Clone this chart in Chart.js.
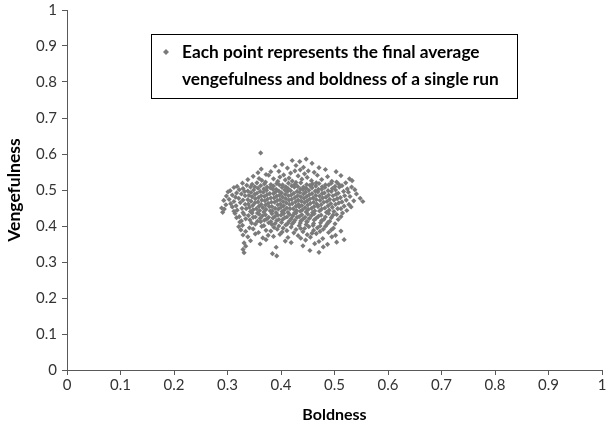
<!DOCTYPE html>
<html>
<head>
<meta charset="utf-8">
<script src="https://cdn.jsdelivr.net/npm/chart.js@4.4.1/dist/chart.umd.min.js"></script>
<style>
    html, body { margin: 0; padding: 0; background: #fff; }
    #wrap { position: relative; width: 606px; height: 429px; }
</style>
</head>
<body>
<div id="wrap"><canvas id="scatter"></canvas></div>
<script>
// final (boldness, vengefulness) of each run
const runs = [
    [0.362,0.603],
    [0.421,0.582],[0.447,0.586],[0.435,0.579],
    [0.402,0.571],[0.428,0.568],[0.458,0.574],[0.389,0.566],[0.442,0.563],
    [0.363,0.558],[0.412,0.561],[0.436,0.556],[0.471,0.562],[0.483,0.557],[0.451,0.553],[0.396,0.552],
    [0.357,0.548],[0.381,0.551],[0.418,0.547],[0.426,0.553],[0.462,0.549],[0.503,0.551],[0.444,0.545],[0.372,0.543],[0.405,0.542],
    [0.348,0.538],[0.377,0.541],[0.398,0.536],[0.432,0.539],[0.449,0.535],[0.468,0.541],[0.487,0.537],[0.512,0.540],[0.415,0.533],[0.359,0.532],[0.528,0.531],
    [0.338,0.529],[0.364,0.527],[0.386,0.531],[0.394,0.524],[0.408,0.528],[0.421,0.525],[0.439,0.530],[0.457,0.526],[0.476,0.529],[0.495,0.524],[0.533,0.526],[0.371,0.522],[0.428,0.521],[0.466,0.520],[0.504,0.522],
    [0.328,0.519],[0.346,0.516],[0.355,0.520],[0.369,0.517],[0.381,0.515],[0.392,0.518],[0.403,0.514],[0.414,0.519],[0.426,0.516],[0.437,0.520],[0.448,0.515],[0.459,0.517],[0.471,0.518],[0.483,0.514],[0.494,0.519],[0.508,0.516],[0.521,0.520],
    [0.318,0.510],[0.336,0.513],[0.351,0.509],[0.362,0.512],[0.374,0.508],[0.386,0.511],[0.397,0.514],[0.409,0.509],[0.420,0.512],[0.431,0.510],[0.442,0.508],[0.454,0.513],[0.465,0.511],[0.477,0.509],[0.489,0.514],[0.501,0.510],[0.514,0.512],[0.532,0.508],
    [0.312,0.507],[0.329,0.504],[0.343,0.508],[0.357,0.505],[0.368,0.503],[0.380,0.506],[0.391,0.502],[0.402,0.507],[0.413,0.504],[0.425,0.508],[0.436,0.503],[0.447,0.505],[0.458,0.506],[0.470,0.502],[0.482,0.507],[0.496,0.504],[0.509,0.508],[0.524,0.503],
    [0.305,0.498],[0.322,0.501],[0.338,0.497],[0.349,0.500],[0.361,0.496],[0.373,0.499],[0.385,0.502],[0.396,0.497],[0.407,0.500],[0.418,0.498],[0.430,0.496],[0.441,0.501],[0.452,0.499],[0.464,0.497],[0.476,0.502],[0.488,0.498],[0.502,0.500],[0.517,0.496],[0.538,0.501],
    [0.301,0.495],[0.317,0.492],[0.332,0.496],[0.344,0.493],[0.355,0.491],[0.367,0.494],[0.379,0.490],[0.390,0.495],[0.401,0.492],[0.412,0.496],[0.424,0.491],[0.435,0.493],[0.446,0.494],[0.458,0.490],[0.469,0.495],[0.481,0.492],[0.494,0.496],[0.507,0.491],[0.526,0.494],
    [0.309,0.486],[0.326,0.489],[0.340,0.485],[0.351,0.488],[0.363,0.484],[0.374,0.487],[0.386,0.490],[0.397,0.485],[0.408,0.488],[0.419,0.486],[0.431,0.484],[0.442,0.489],[0.453,0.487],[0.465,0.485],[0.477,0.490],[0.489,0.486],[0.503,0.488],[0.519,0.484],[0.541,0.489],
    [0.298,0.483],[0.315,0.480],[0.333,0.484],[0.346,0.481],[0.358,0.479],[0.369,0.482],[0.381,0.478],[0.392,0.483],[0.403,0.480],[0.414,0.484],[0.426,0.479],[0.437,0.481],[0.448,0.482],[0.460,0.478],[0.472,0.483],[0.484,0.480],[0.497,0.484],[0.511,0.479],[0.529,0.482],
    [0.303,0.474],[0.321,0.477],[0.338,0.473],[0.352,0.476],[0.364,0.472],[0.375,0.475],[0.387,0.478],[0.398,0.473],[0.409,0.476],[0.420,0.474],[0.432,0.472],[0.443,0.477],[0.454,0.475],[0.466,0.473],[0.478,0.478],[0.491,0.474],[0.505,0.476],[0.522,0.472],[0.548,0.477],
    [0.293,0.471],[0.312,0.468],[0.329,0.472],[0.344,0.469],[0.357,0.467],[0.370,0.470],[0.382,0.466],[0.393,0.471],[0.404,0.468],[0.415,0.472],[0.427,0.467],[0.438,0.469],[0.449,0.470],[0.461,0.466],[0.473,0.471],[0.486,0.468],[0.499,0.472],[0.514,0.467],[0.536,0.470],[0.553,0.468],
    [0.306,0.462],[0.324,0.465],[0.339,0.461],[0.351,0.464],[0.363,0.460],[0.376,0.463],[0.388,0.466],[0.399,0.461],[0.410,0.464],[0.421,0.462],[0.433,0.460],[0.444,0.465],[0.455,0.463],[0.467,0.461],[0.480,0.466],[0.493,0.462],[0.508,0.464],[0.527,0.460],
    [0.297,0.459],[0.316,0.456],[0.333,0.460],[0.347,0.457],[0.359,0.455],[0.371,0.458],[0.383,0.454],[0.394,0.459],[0.405,0.456],[0.416,0.460],[0.428,0.455],[0.439,0.457],[0.450,0.458],[0.462,0.454],[0.475,0.459],[0.488,0.456],[0.502,0.460],[0.518,0.455],
    [0.289,0.450],[0.309,0.453],[0.327,0.449],[0.341,0.452],[0.354,0.448],[0.366,0.451],[0.378,0.454],[0.389,0.449],[0.400,0.452],[0.411,0.450],[0.423,0.448],[0.434,0.453],[0.445,0.451],[0.457,0.449],[0.469,0.454],[0.482,0.450],[0.496,0.452],[0.512,0.448],[0.531,0.453],
    [0.294,0.447],[0.318,0.444],[0.335,0.448],[0.348,0.445],[0.360,0.443],[0.372,0.446],[0.384,0.442],[0.395,0.447],[0.406,0.444],[0.417,0.448],[0.429,0.443],[0.440,0.445],[0.451,0.446],[0.463,0.442],[0.476,0.447],[0.490,0.444],[0.506,0.448],[0.523,0.443],
    [0.291,0.438],[0.312,0.441],[0.329,0.437],[0.343,0.440],[0.356,0.436],[0.368,0.439],[0.380,0.442],[0.391,0.437],[0.402,0.440],[0.413,0.438],[0.425,0.436],[0.436,0.441],[0.447,0.439],[0.459,0.437],[0.472,0.442],[0.485,0.438],[0.499,0.440],[0.515,0.436],
    [0.314,0.435],[0.331,0.432],[0.346,0.436],[0.359,0.433],[0.371,0.431],[0.383,0.434],[0.394,0.430],[0.405,0.435],[0.416,0.432],[0.428,0.436],[0.439,0.431],[0.450,0.433],[0.462,0.434],[0.475,0.430],[0.489,0.435],[0.504,0.432],
    [0.322,0.426],[0.339,0.429],[0.352,0.425],[0.365,0.428],[0.377,0.424],[0.389,0.427],[0.400,0.430],[0.411,0.425],[0.422,0.428],[0.434,0.426],[0.445,0.424],[0.457,0.429],[0.470,0.427],[0.483,0.425],[0.497,0.430],[0.512,0.426],
    [0.317,0.423],[0.334,0.420],[0.348,0.424],[0.361,0.421],[0.373,0.419],[0.385,0.422],[0.396,0.418],[0.407,0.423],[0.419,0.420],[0.430,0.424],[0.441,0.419],[0.453,0.421],[0.466,0.422],[0.480,0.418],[0.494,0.423],
    [0.326,0.414],[0.342,0.417],[0.356,0.413],[0.369,0.416],[0.381,0.412],[0.392,0.415],[0.403,0.418],[0.415,0.413],[0.426,0.416],[0.437,0.414],[0.449,0.412],[0.462,0.417],[0.476,0.415],[0.491,0.413],[0.507,0.418],
    [0.323,0.411],[0.345,0.408],[0.362,0.412],[0.377,0.409],[0.389,0.407],[0.401,0.410],[0.412,0.406],[0.424,0.411],[0.436,0.408],[0.448,0.412],[0.461,0.407],[0.474,0.409],[0.488,0.410],[0.501,0.406],
    [0.328,0.402],[0.352,0.405],[0.368,0.401],[0.383,0.404],[0.396,0.400],[0.409,0.403],[0.421,0.406],[0.434,0.401],[0.447,0.404],[0.460,0.402],[0.473,0.400],[0.486,0.405],
    [0.321,0.398],[0.341,0.395],[0.364,0.399],[0.387,0.396],[0.404,0.394],[0.419,0.397],[0.437,0.393],[0.452,0.398],[0.468,0.395],[0.483,0.399],[0.498,0.394],
    [0.325,0.389],[0.348,0.392],[0.372,0.388],[0.393,0.391],[0.411,0.387],[0.428,0.390],[0.444,0.393],[0.461,0.388],[0.479,0.391],[0.494,0.389],
    [0.334,0.385],[0.358,0.382],[0.381,0.386],[0.402,0.383],[0.424,0.381],[0.441,0.384],[0.458,0.380],[0.473,0.385],[0.489,0.382],[0.512,0.386],
    [0.329,0.375],[0.352,0.378],[0.376,0.374],[0.398,0.377],[0.432,0.373],[0.449,0.376],[0.466,0.379],[0.502,0.374],
    [0.338,0.370],[0.366,0.367],[0.386,0.371],[0.413,0.368],[0.437,0.366],[0.455,0.369],[0.478,0.365],[0.495,0.370],
    [0.343,0.359],[0.372,0.362],[0.408,0.358],[0.446,0.361],[0.471,0.357],[0.518,0.362],
    [0.331,0.353],[0.361,0.350],[0.419,0.354],[0.463,0.351],[0.487,0.349],[0.504,0.355],
    [0.334,0.344],[0.391,0.341],[0.441,0.345],[0.479,0.342],
    [0.329,0.335],[0.454,0.332],
    [0.331,0.326],[0.384,0.323],[0.471,0.327],
    [0.392,0.317]
];

const tickLabels = ['0', '0.1', '0.2', '0.3', '0.4', '0.5', '0.6', '0.7', '0.8', '0.9', '1'];
const legendLines = [
    'Each point represents the final average',
    'vengefulness and boldness of a single run'
];
const xTitle = 'Boldness';
const yTitle = 'Vengefulness';

const pointGrey = '#7a7a7a';
const axisGrey = '#595959';
const textGrey = '#333333';

// legend box drawn by hand, Excel style, inside the plot area
const legendBox = {
    id: 'legendBox',
    afterDraw(chart) {
        const ctx = chart.ctx;
        ctx.save();
        ctx.strokeStyle = '#000';
        ctx.lineWidth = 1;
        ctx.strokeRect(151.5, 34.5, 366, 64);

        // diamond marker
        ctx.fillStyle = pointGrey;
        ctx.beginPath();
        ctx.moveTo(166, 49);
        ctx.lineTo(169, 52);
        ctx.lineTo(166, 55);
        ctx.lineTo(163, 52);
        ctx.closePath();
        ctx.fill();

        ctx.fillStyle = '#000';
        ctx.font = 'bold 17.3px Lato';
        ctx.textBaseline = 'middle';
        ctx.textAlign = 'left';
        ctx.fillText(legendLines[0], 182, 52);
        ctx.fillText(legendLines[1], 182, 79);
        ctx.restore();
    }
};

const canvas = document.getElementById('scatter');
canvas.width = 606;
canvas.height = 429;

new Chart(canvas, {
    type: 'scatter',
    data: {
        datasets: [{
            label: 'runs',
            data: runs.map(r => ({ x: r[0], y: r[1] })),
            pointStyle: 'rectRot',
            pointRadius: 2.6,
            pointBorderWidth: 0,
            backgroundColor: pointGrey,
            borderColor: pointGrey
        }]
    },
    options: {
        responsive: false,
        animation: false,
        layout: { padding: { top: 10, right: 1, left: 0, bottom: 0 } },
        plugins: {
            legend: { display: false },
            tooltip: { enabled: false }
        },
        scales: {
            x: {
                type: 'linear',
                min: 0,
                max: 1,
                afterFit: scale => {
                    scale.height = 59;
                    scale.paddingLeft = 0;
                    scale.paddingRight = 0;
                },
                afterBuildTicks: scale => {
                    scale.ticks = tickLabels.map(t => ({ value: parseFloat(t) }));
                },
                ticks: {
                    callback: (v, i) => tickLabels[i],
                    color: textGrey,
                    font: { family: 'Lato', size: 15 },
                    padding: 1,
                    maxRotation: 0
                },
                grid: {
                    drawOnChartArea: false,
                    drawTicks: true,
                    tickLength: 5,
                    color: axisGrey
                },
                border: { color: axisGrey, width: 1 },
                title: {
                    display: true,
                    text: xTitle,
                    color: '#000',
                    font: { family: 'Lato', size: 16, weight: 'bold' },
                    padding: { top: 0, bottom: 5 }
                }
            },
            y: {
                type: 'linear',
                min: 0,
                max: 1,
                afterFit: scale => {
                    scale.width = 67;
                    scale.paddingTop = 0;
                    scale.paddingBottom = 0;
                },
                afterBuildTicks: scale => {
                    scale.ticks = tickLabels.map(t => ({ value: parseFloat(t) }));
                },
                ticks: {
                    callback: (v, i) => tickLabels[i],
                    color: textGrey,
                    font: { family: 'Lato', size: 15 },
                    padding: 5
                },
                grid: {
                    drawOnChartArea: false,
                    drawTicks: true,
                    tickLength: 5,
                    color: axisGrey
                },
                border: { color: axisGrey, width: 1 },
                title: {
                    display: true,
                    text: yTitle,
                    color: '#000',
                    font: { family: 'Lato', size: 17.5, weight: 'bold' },
                    padding: { top: 4, bottom: 0 }
                }
            }
        }
    },
    plugins: [legendBox]
});
</script>
</body>
</html>
